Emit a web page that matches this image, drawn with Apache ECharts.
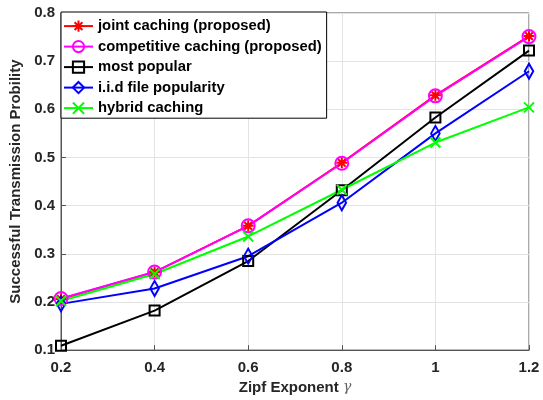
<!DOCTYPE html>
<html>
<head>
<meta charset="utf-8">
<script src="https://cdn.jsdelivr.net/npm/echarts@6/dist/echarts.min.js"></script>
<style>
  html, body { margin: 0; padding: 0; background: #fff; }
  #main { width: 543px; height: 400px; }
</style>
</head>
<body>
<div id="main"></div>
<script>
// 数据
var zipf = [0.2, 0.4, 0.6, 0.8, 1.0, 1.2];
var jointCaching = [0.206, 0.262, 0.358, 0.489, 0.629, 0.752];
var competitiveCaching = [0.207, 0.262, 0.358, 0.488, 0.628, 0.751];
var mostPopular = [0.109, 0.182, 0.285, 0.432, 0.583, 0.722];
var iidPopularity = [0.196, 0.228, 0.295, 0.406, 0.550, 0.679];
var hybridCaching = [0.202, 0.258, 0.336, 0.433, 0.531, 0.604];

var names = ['joint caching (proposed)', 'competitive caching (proposed)', 'most popular', 'i.i.d file popularity', 'hybrid caching'];

function pairs(arr) {
    return zipf.map(function (x, i) { return [x, arr[i]]; });
}

var fontFam = '"Liberation Sans", Arial, Helvetica, sans-serif';
var axisCol = '#555555';

// 符号
var starPath = 'path://M0,5L10,5M5,0L5,10M1.5,1.5L8.5,8.5M8.5,1.5L1.5,8.5';
var circlePath = 'path://M10,5A5,5 0 1 1 0,5A5,5 0 1 1 10,5Z';
var rectPath = 'path://M0,0L10,0L10,10L0,10Z';
var diamondPath = 'path://M5,0L10,7L5,14L0,7Z';
var crossPath = 'path://M0,0L10,10M10,0L0,10';

function mkSeries(name, data, color, symbol, size) {
    return {
        name: name,
        type: 'line',
        data: pairs(data),
        symbol: symbol,
        symbolSize: size,
        symbolKeepAspect: true,
        lineStyle: { color: color, width: 2 },
        itemStyle: { color: 'none', borderColor: color, borderWidth: 2 },
        emphasis: { disabled: true },
        animation: false
    };
}

var myChart = echarts.init(document.getElementById('main'));

var option = {
    backgroundColor: '#ffffff',
    grid: {
        left: 61, right: 14, top: 13, bottom: 47,
        show: true, borderColor: axisCol, borderWidth: 1
    },
    legend: {
        left: 61, top: 12,
        orient: 'vertical',
        data: names,
        itemWidth: 29,
        itemHeight: 14,
        itemGap: 4.3,
        padding: [6, 5, 2, 2],
        backgroundColor: '#ffffff',
        borderColor: '#000000',
        borderWidth: 1,
        textStyle: { fontFamily: fontFam, fontWeight: 'bold', fontSize: 14.8, color: '#000', lineHeight: 15 }
    },
    xAxis: {
        type: 'value',
        min: 0.2, max: 1.2, interval: 0.2,
        name: '{a|Zipf Exponent }{g|γ}',
        nameLocation: 'middle',
        nameGap: 26,
        nameTextStyle: {
            rich: {
                a: { fontFamily: fontFam, fontWeight: 'bold', fontSize: 15, color: '#262626' },
                g: { fontFamily: '"DejaVu Serif", serif', fontStyle: 'italic', fontSize: 14, color: '#666666' }
            }
        },
        axisLine: { lineStyle: { color: axisCol } },
        axisTick: { inside: true, length: 5, lineStyle: { color: axisCol } },
        axisLabel: { fontFamily: fontFam, fontWeight: 'bold', fontSize: 15, color: '#262626', margin: 10 },
        splitLine: { show: true, lineStyle: { color: '#e3e3e3' } }
    },
    yAxis: {
        type: 'value',
        min: 0.1, max: 0.8, interval: 0.1,
        name: 'Successful Transmission Probility',
        nameLocation: 'middle',
        nameGap: 37,
        nameTextStyle: { fontFamily: fontFam, fontWeight: 'bold', fontSize: 15, color: '#262626' },
        axisLine: { show: true, lineStyle: { color: axisCol } },
        axisTick: { show: true, inside: true, length: 5, lineStyle: { color: axisCol } },
        axisLabel: {
            fontFamily: fontFam, fontWeight: 'bold', fontSize: 15, color: '#262626', margin: 6,
            formatter: function (v) { return v.toFixed(1); }
        },
        splitLine: { show: true, lineStyle: { color: '#e3e3e3' } }
    },
    series: [
        mkSeries(names[0], jointCaching, '#ff0000', starPath, 11),
        mkSeries(names[1], competitiveCaching, '#ff00ff', circlePath, 13),
        mkSeries(names[2], mostPopular, '#000000', rectPath, 10),
        mkSeries(names[3], iidPopularity, '#0000ff', diamondPath, [12, 15]),
        mkSeries(names[4], hybridCaching, '#00ff00', crossPath, 10)
    ]
};

myChart.setOption(option);
</script>
</body>
</html>
